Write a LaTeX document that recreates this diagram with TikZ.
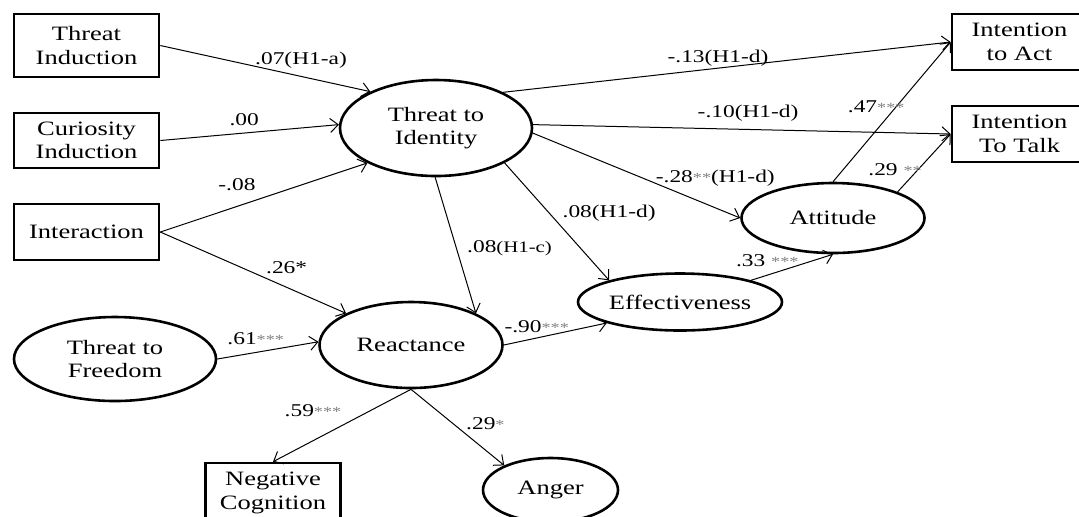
\documentclass[tikz,border=0pt]{standalone}
\usepackage{fontspec}
\setmainfont{Liberation Serif}[FakeStretch=1.3]
\usepackage{tikz}
\usetikzlibrary{arrows.meta, shapes.geometric}
\newcommand{\sig}[1]{{\color{black!50}\fontsize{7}{7}\selectfont #1}}

\begin{document}
\begin{tikzpicture}[x=0.5pt, y=-0.5pt,
  obs/.style={rectangle, draw, line width=1.3pt, minimum width=72.5pt, minimum height=29pt, align=center, inner sep=0pt, font=\fontsize{10.2}{11.7}\selectfont},
  lat/.style={ellipse, draw, line width=1.3pt, align=center, inner sep=0pt, font=\fontsize{10.2}{11.7}\selectfont},
  link/.style={-{Straight Barb[length=4pt, width=7pt]}, line width=0.5pt},
  lbl/.style={font=\fontsize{9}{9}\selectfont, inner sep=0pt}
]
\useasboundingbox (0,0) rectangle (1079,516);

% ===== Manipulations =====
\node[obs, minimum height=31.5pt] (thrind) at (86.5,45.5) {Threat\\Induction};
\node[obs, minimum height=27.5pt] (curind) at (86.5,140.5) {Curiosity\\Induction};
\node[obs, minimum height=28pt] (inter) at (86.5,232) {Interaction};

% ===== Latent constructs =====
\node[lat, minimum width=96pt, minimum height=48pt] (thrid) at (436,128) {Threat to\\Identity};
\node[lat, minimum width=101pt, minimum height=42pt] (thrfree) at (115,359) {Threat to\\Freedom};
\node[lat, minimum width=91.5pt, minimum height=43pt] (react) at (411,345) {Reactance};
\node[lat, minimum width=102pt, minimum height=28.5pt] (effect) at (680,302) {Effectiveness};
\node[lat, minimum width=91.5pt, minimum height=35pt] (att) at (833,218) {Attitude};
\node[lat, minimum width=67.5pt, minimum height=32pt] (anger) at (550.5,490) {Anger};

% ===== Outcomes =====
\node[obs, minimum width=67.5pt, minimum height=28pt] (intact) at (1019.5,42) {Intention\\to Act};
\node[obs, minimum width=67.5pt, minimum height=28pt] (inttalk) at (1019.5,134) {Intention\\To Talk};
\node[obs, minimum width=67.5pt, minimum height=30pt] (negcog) at (273,493) {Negative\\Cognition};

% ===== Paths =====
\draw[link] (thrind.east) -- node[lbl, pos=0.67, yshift=8.3pt] {.07(H1-a)} (thrid.151);
\draw[link] (curind.east) -- node[lbl, pos=0.47, yshift=6.7pt] {.00} (thrid.178);
\draw[link] (inter.east) -- node[lbl, pos=0.37, yshift=10.7pt] {-.08} (thrid.207);
\draw[link] (inter.east) -- node[lbl, pos=0.68, yshift=9.9pt] {.26*} (react.154);
\draw[link] (thrfree.east) -- node[lbl, pos=0.38, yshift=6.9pt] {.61\sig{***}} (react.178);
\draw[link] (thrid.269) -- node[lbl, pos=0.52, xshift=26.6pt] {.08{\fontsize{8}{8}\selectfont(H1-c)}} (react.26);
\draw[link] (thrid.333) -- node[lbl, pos=0.43, xshift=29.8pt] {.08(H1-d)} (effect.163);
\draw[link] (thrid.357) -- node[lbl, pos=0.88, yshift=14.9pt] {-.28\sig{**}(H1-d)} (att.west);
\draw[link] (thrid.28) -- node[lbl, pos=0.48, yshift=5.2pt] {-.13(H1-d)} (intact.west);
\draw[link] (thrid.2) -- node[lbl, pos=0.51, xshift=1pt, yshift=8.2pt] {-.10(H1-d)} (inttalk.west);
\draw[link] (att.north) -- node[lbl, pos=0.54, xshift=-10.2pt] {.47\sig{***}} (intact.west);
\draw[link] (att.22) -- node[lbl, pos=0.39, xshift=-11.6pt] {.29 \sig{**}} (inttalk.west);
\draw[link] (effect.17) -- node[lbl, pos=0.2, yshift=7pt] {.33 \sig{***}} (att.south);
\draw[link] (react.east) -- node[lbl, pos=0.32, yshift=5.8pt] {-.90\sig{***}} (effect.196);
\draw[link] (react.south) -- node[lbl, pos=0.29, xshift=-29pt] {.59\sig{***}} (negcog.north);
\draw[link] (react.south) -- node[lbl, pos=0.455, xshift=16pt] {.29\sig{*}} (anger.152);

\end{tikzpicture}
\end{document}
